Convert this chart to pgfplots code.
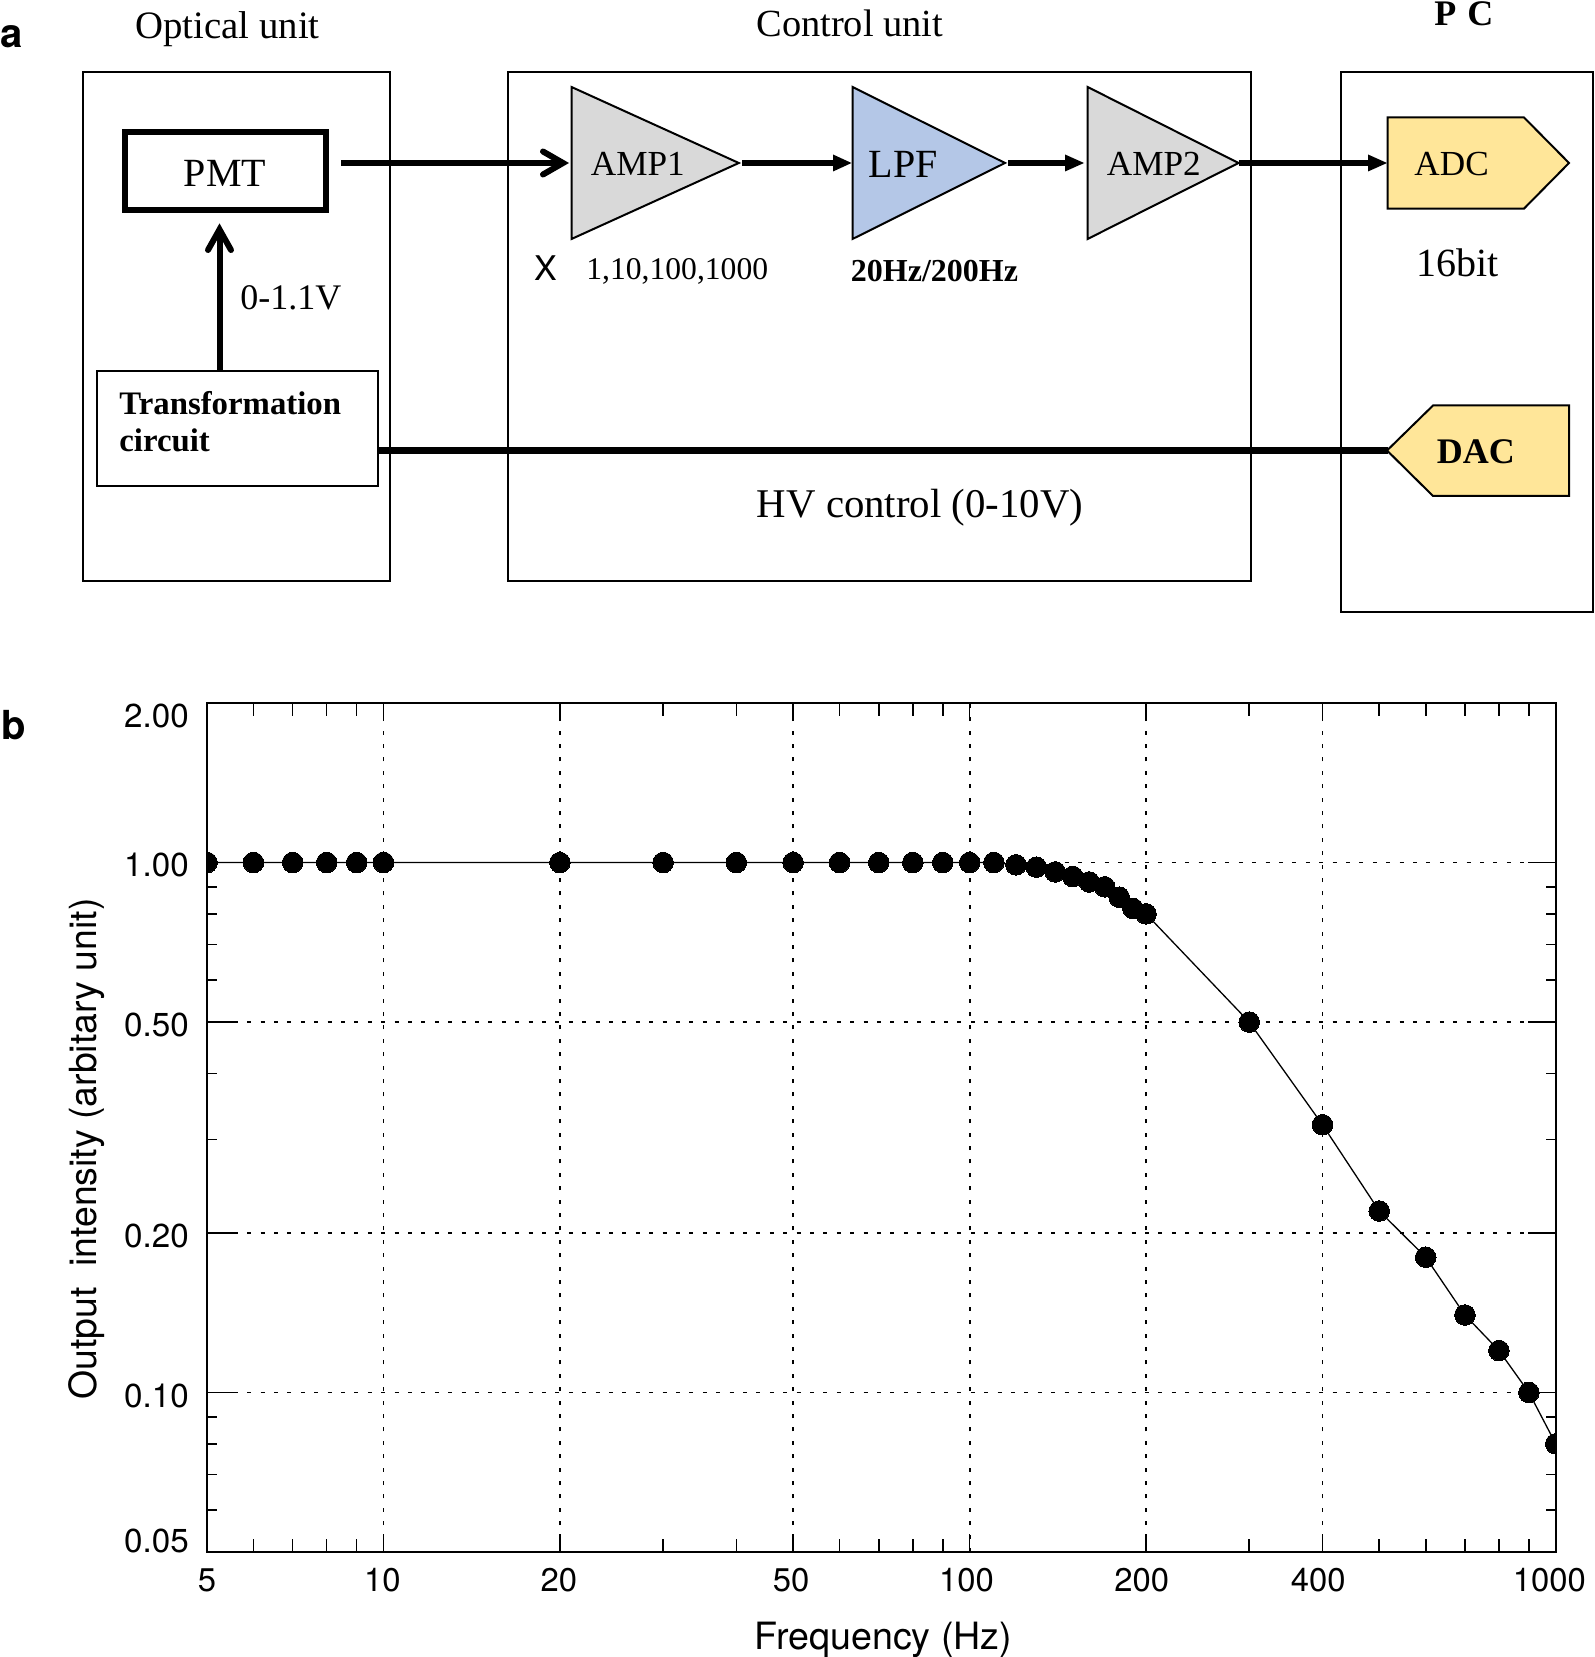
\documentclass[border=0pt]{standalone}
\usepackage{fontspec}
\setmainfont{Liberation Serif}
\setsansfont{TeX Gyre Heros}
\usepackage{pgfplots}
\pgfplotsset{compat=1.18}
\definecolor{ampgrey}{HTML}{D9D9D9}
\definecolor{lpfblue}{HTML}{B4C7E7}
\definecolor{dacyellow}{HTML}{FFE699}
% one reference pixel is 0.5pt
\newcommand{\lab}[4]{\node[anchor=base west,inner sep=0pt,font=\fontsize{#3}{#3}\selectfont] at (#1,#2) {#4};}
\newcommand{\ylab}[2]{\raisebox{#1}[0.7em][0pt]{#2}}
\pgfplotsset{
  panelb/.style={
    at={(103.5pt,-776pt)},anchor=south west,
    scale only axis,width=674.35pt,height=424.5pt,
    xmin=5,xmax=1000,ymin=0.05,ymax=2,
    axis line style={line width=1pt},
    every tick/.style={black,line width=0.8pt},
    grid style={black,line width=0.9pt,dash pattern=on 2pt off 4.7pt},
  },
}
\begin{document}
\begin{tikzpicture}
\path[use as bounding box] (0pt,0pt) rectangle (797pt,-828.5pt);
\begin{scope}[x=0.5pt,y=-0.5pt]
  % panel a, blocks
  \draw[line width=1.4pt] (83,72) rectangle (390,581);
  \draw[line width=1.4pt] (508,72) rectangle (1251,581);
  \draw[line width=1.4pt] (1341,72) rectangle (1593,612);
  \draw[line width=3pt] (124.5,132) rectangle (325.5,210.5);
  % arrows
  \draw[line width=3pt] (341,163) -- (562,163);
  \draw[line width=3pt,line cap=round,line join=miter] (543,151.5) -- (563,163) -- (543,174.5);
  \draw[line width=3pt] (219.5,371) -- (219.5,232);
  \draw[line width=3pt,line cap=round,line join=miter] (208,250) -- (219.5,229.5) -- (231,250);
  \draw[line width=3.2pt] (378,450.5) -- (1388,450.5);
  \draw[line width=1.3pt,fill=white] (97,371) rectangle (378,486);
  \filldraw[line width=1pt,fill=ampgrey] (571.5,87) -- (571.5,239) -- (738.8,163) -- cycle;
  \filldraw[line width=1pt,fill=lpfblue] (852.5,87) -- (852.5,239) -- (1005,163) -- cycle;
  \filldraw[line width=1pt,fill=ampgrey] (1087.6,87) -- (1087.6,239) -- (1238.5,163) -- cycle;
  \filldraw[line width=1pt,fill=dacyellow] (1387.5,117.5) -- (1524,117.5) -- (1569,163) -- (1524,208.6) -- (1387.5,208.6) -- cycle;
  \filldraw[line width=1pt,fill=dacyellow] (1387,450.5) -- (1433,405.5) -- (1569,405.5) -- (1569,496) -- (1433,496) -- cycle;
  \draw[line width=3pt] (742,163) -- (835,163);
  \fill (833,154.5) -- (851.5,163) -- (833,171.5) -- cycle;
  \draw[line width=3pt] (1008,163) -- (1067,163);
  \fill (1065,154.5) -- (1084,163) -- (1065,171.5) -- cycle;
  \draw[line width=3pt] (1238.5,163) -- (1370,163);
  \fill (1368,154.5) -- (1387,163) -- (1368,171.5) -- cycle;
  % panel a, text
  \lab{135}{38.5}{19.4}{Optical unit}
  \lab{756}{37}{19.2}{Control unit}
  \lab{1434}{26}{18}{\bfseries P\kern1pt\ C}
  \lab{183.5}{186.5}{20}{PMT}
  \lab{240}{310}{18}{0-1.1V}
  \lab{119}{415}{16.4}{\bfseries Transformation}
  \lab{119}{452}{16.4}{\bfseries circuit}
  \lab{590.5}{175.5}{17.6}{AMP1}
  \lab{586}{279.5}{15.8}{1,10,100,1000}
  \node[anchor=base west,inner sep=0pt,font=\sffamily\fontsize{17}{17}\selectfont] at (534.5,280.5) {X};
  \lab{868.5}{177.5}{20}{LPF}
  \lab{850.5}{282}{16}{\bfseries 20Hz/200Hz}
  \lab{1106.5}{175.5}{17.6}{AMP2}
  \lab{1414}{175.5}{17.6}{ADC}
  \lab{1416}{277}{20}{16bit}
  \lab{1436.5}{463.5}{18}{\bfseries DAC}
  \lab{756.5}{517.5}{20.4}{HV control (0-10V)}
  \node[anchor=base west,inner sep=0pt,font=\sffamily\bfseries\fontsize{20}{20}\selectfont] at (0,48) {a};
  \node[anchor=base west,inner sep=0pt,font=\sffamily\bfseries\fontsize{20}{20}\selectfont] at (1,739) {b};
\end{scope}
% panel b, frequency ticks and grid
\begin{loglogaxis}[panelb,
  major tick length=9pt,minor tick length=6.5pt,
  xtick={5,10,20,50,100,200,400,1000},
  xticklabels={5,10\kern1pt,20\kern1pt,50\kern2pt,100\kern3.2pt,200\kern4.2pt,400\kern4.2pt,1000\kern6.3pt},
  minor xtick={6,7,8,9,30,40,60,70,80,90,300,500,600,700,800,900},
  xmajorgrids,
  ytick=\empty,yminorticks=false,
  xticklabel style={font=\sffamily\fontsize{16.4}{18}\selectfont,yshift=-4.8pt},
  xlabel={Frequency (Hz)},
  xlabel style={at={(axis description cs:0.5015,-0.1143)},anchor=base,font=\sffamily\fontsize{18.8}{20}\selectfont},
]
\end{loglogaxis}
% panel b, intensity ticks, grid and data
\begin{loglogaxis}[panelb,
  major tick length=14pt,minor tick length=5pt,
  ytick={0.05,0.1,0.2,0.5,1,2},
  yticklabels={\ylab{5.5pt}{0.05},\ylab{-1.5pt}{0.10},\ylab{-1.5pt}{0.20},\ylab{-1.5pt}{0.50},\ylab{-1pt}{1.00},\ylab{-6.5pt}{2.00}},
  minor ytick={0.06,0.07,0.08,0.09,0.3,0.4,0.6,0.7,0.8,0.9},
  ymajorgrids,
  xtick=\empty,xminorticks=false,
  yticklabel style={font=\sffamily\fontsize{16.6}{18}\selectfont,anchor=east,xshift=-5.6pt},
  ylabel={Output\ \ intensity (arbitary unit)},
  ylabel style={at={(axis description cs:-0.0818,0.4747)},anchor=base,font=\sffamily\fontsize{18.7}{20}\selectfont},
  clip marker paths=true,
]
\addplot[black,line width=0.65pt,mark=*,mark size=5.15pt,mark options={line width=0pt,fill=black}] coordinates {
  (5,1) (6,1) (7,1) (8,1) (9,1) (10,1) (20,1) (30,1) (40,1) (50,1)
  (60,1) (70,1) (80,1) (90,1) (100,1) (110,1) (120,0.99) (130,0.98)
  (140,0.96) (150,0.941) (160,0.919) (170,0.90) (180,0.86) (190,0.819)
  (200,0.80) (300,0.50) (400,0.32) (500,0.22) (600,0.18) (700,0.14)
  (800,0.12) (900,0.10) (1000,0.08)
};
\end{loglogaxis}
\end{tikzpicture}
\end{document}
